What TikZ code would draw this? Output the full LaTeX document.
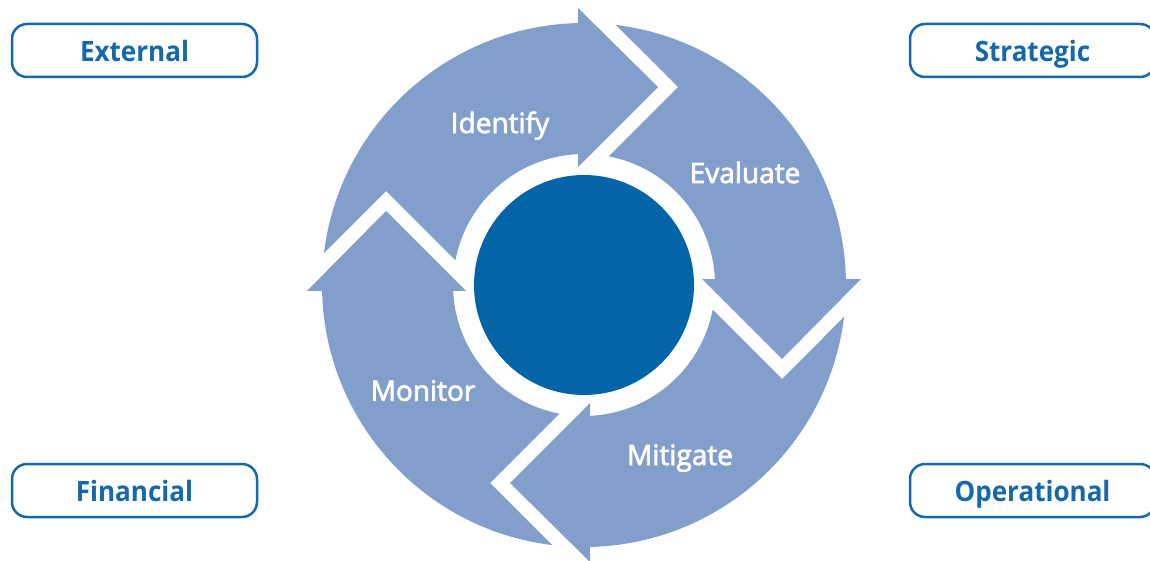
\documentclass[tikz,border=0pt]{standalone}
\usepackage{fontspec}
\setmainfont{Open Sans}
\newfontfamily\ringfont[FakeBold=2.5]{Open Sans}
\newfontfamily\boxfont[FakeStretch=0.93]{Open Sans}
\definecolor{ringblue}{RGB}{130,159,204}
\definecolor{coreblue}{RGB}{3,100,168}
\definecolor{boxblue}{RGB}{22,104,172}
\tikzset{
  ringarrow/.style={fill=ringblue},
  catbox/.style={draw=boxblue, line width=2.5pt, rounded corners=15pt, fill=white,
    minimum width=245pt, minimum height=53pt, inner sep=0pt,
    text height=22pt, text depth=0pt, text=boxblue,
    font=\boxfont\bfseries\fontsize{28}{30}\selectfont},
  steplabel/.style={text=white, anchor=base, inner sep=0pt,
    font=\ringfont\fontsize{28}{30}\selectfont}
}
\begin{document}
\begin{tikzpicture}[x=1pt,y=1pt]
\clip (0,0) rectangle (1150,560);
\fill[white] (0,0) rectangle (1150,560);
% ring of four arrows
\foreach \r in {0,90,180,270}{
  \begin{scope}[shift={(584,275)}, rotate=\r]
    \fill[ringarrow] (83:262pt) arc[start angle=83, end angle=1.31, radius=262pt]
      -- (277,6) -- (198,-74) -- (118,6) -- (2.62:131pt)
      arc[start angle=2.62, end angle=79.15, radius=131pt]
      -- (94,198) -- cycle;
  \end{scope}
}
% central disc
\node[circle, fill=coreblue, minimum size=220pt, inner sep=0pt] (core) at (584,275) {};
% step labels
\node[steplabel] (identify) at (500,427) {Identify};
\node[steplabel] (evaluate) at (745,377) {Evaluate};
\node[steplabel] (mitigate) at (680,95) {Mitigate};
\node[steplabel] (monitor) at (423,159.3) {Monitor};
% category boxes
\node[catbox] (external) at (134.5,509.5) {External};
\node[catbox] (strategic) at (1032.5,509.5) {Strategic};
\node[catbox] (financial) at (134.5,69.5) {Financial};
\node[catbox] (operational) at (1032.5,69.5) {Operational};
\end{tikzpicture}
\end{document}
